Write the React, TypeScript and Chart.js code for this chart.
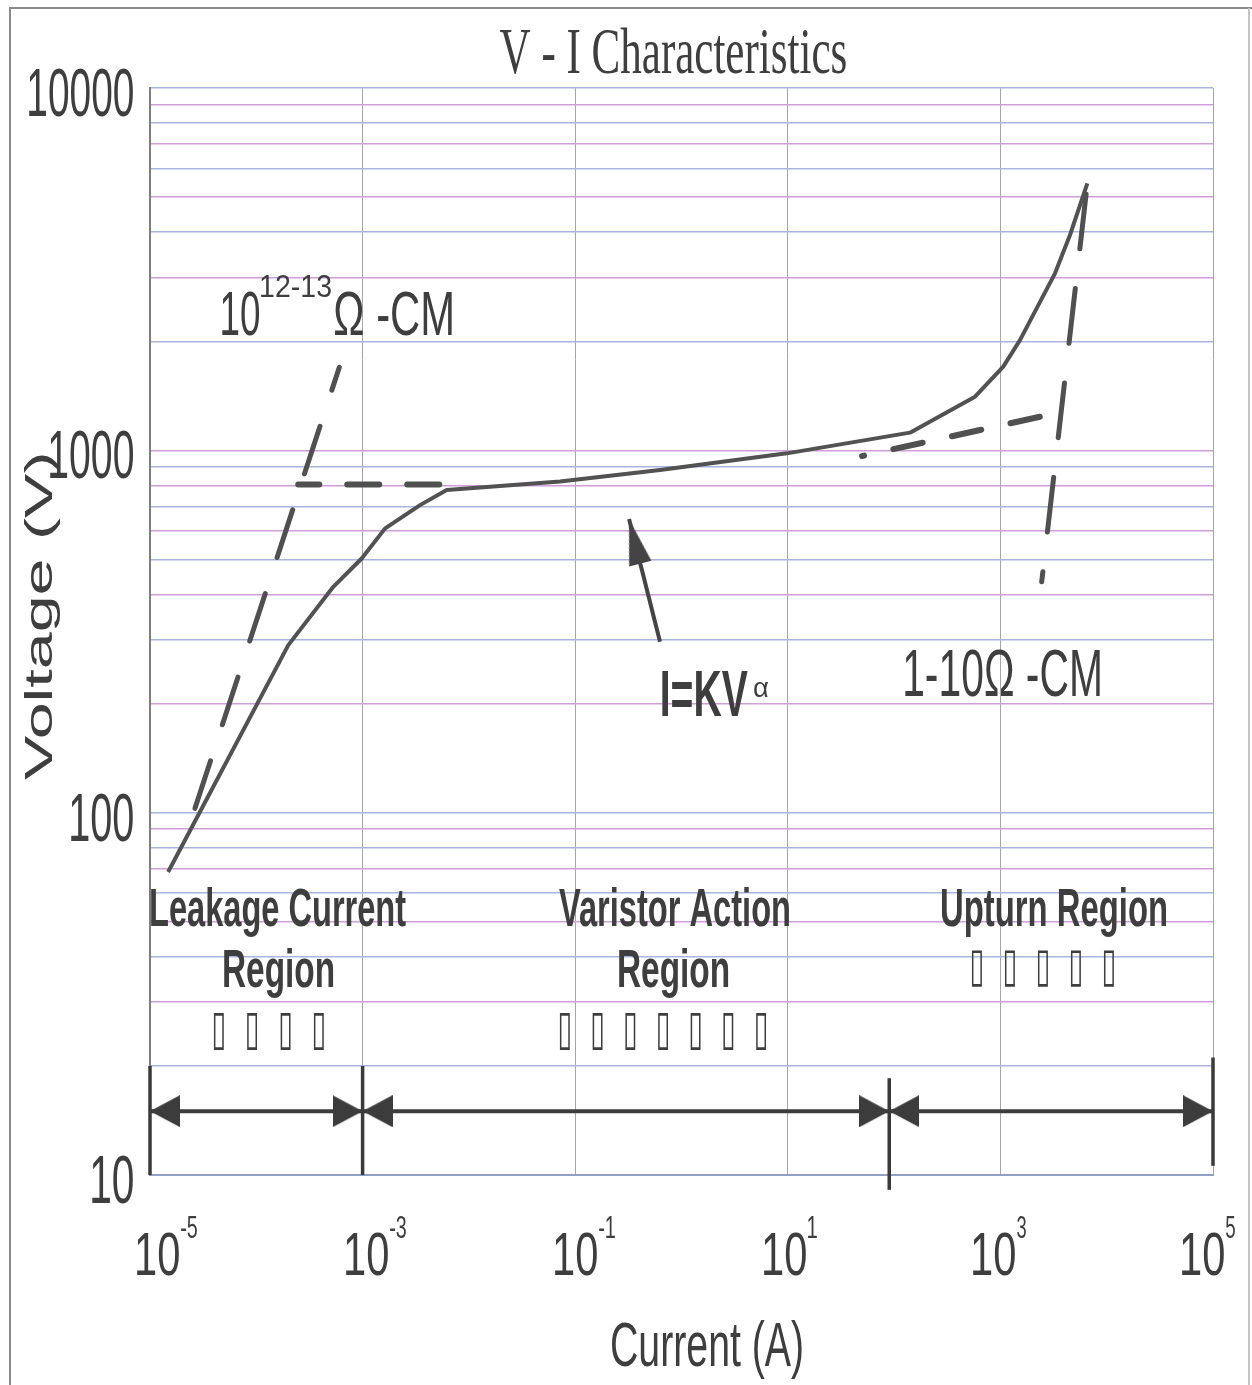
import React, { useEffect, useRef } from 'react';
import { Chart, registerables } from 'chart.js';

Chart.register(...registerables);

// ---------- data ----------
const curveCurrent = [1.48e-5, 2.0e-4, 5.3e-4, 9.8e-4, 1.63e-3, 3.47e-3, 6.18e-3, 0.072, 0.628, 9.8, 141, 577, 1064, 1528, 3264, 4516, 6575];
const curveVoltage = [68.6, 290, 420, 503, 609, 706, 777, 820, 883, 981, 1119, 1406, 1702, 2015, 3080, 3929, 5457];

const leakDashCurrent = [2.65e-5, 6.04e-4];
const leakDashVoltage = [102.8, 1695];
const flatDashCurrent = [2.48e-4, 6.18e-3];
const flatDashVoltage = [805, 805];
const upDashCurrent = [50, 3059];
const upDashVoltage = [964, 1259];
const steepDashCurrent = [2447, 6575];
const steepDashVoltage = [434, 5457];

const pointerCurrent = [0.628, 0.321];
const pointerVoltage = [296.5, 646];

const regionBounds = [1e-5, 1e-3, 90, 1e5];
const regionArrowVoltage = 15;
const markerCurrent = [1e-5, 1e-3, 90, 1e5];
const markerTop = [20, 20, 18.5, 21.1];
const markerBottom = [10, 10, 9.1, 10.6];

const xTickValues = [1e-5, 1e-3, 1e-1, 1e1, 1e3, 1e5];
const xTickBase = '10';
const xTickExponents = ['-5', '-3', '-1', '1', '3', '5'];
const yTickValues = [10, 100, 1000, 10000];
const yTickLabels = ['10', '100', '1000', '10000'];
const yGridValues = [
  10, 20, 30, 40, 50, 60, 70, 80, 90,
  100, 200, 300, 400, 500, 600, 700, 800, 900,
  1000, 2000, 3000, 4000, 5000, 6000, 7000, 8000, 9000,
  10000,
];

const titleText = 'V - I Characteristics';
const xAxisTitle = 'Current (A)';
const yAxisTitle = 'Voltage (V)';
const leakResBase = '10';
const leakResExp = '12-13';
const leakResUnit = 'Ω -CM';
const upturnRes = '1-10Ω -CM';
const lawBase = 'I=KV';
const lawExp = 'α';
const regionTitles = ['Leakage Current', 'Varistor Action', 'Upturn Region'];
const regionSecond = ['Region', 'Region'];
const boxGlyph = '▯';
const boxCounts = [4, 7, 5];

// ---------- styles ----------
const INK = '#4b4b4b';
const TEXT = '#3e3e3e';
const SANS = "'Liberation Sans', Arial, sans-serif";
const SERIF = "'Liberation Serif', 'Times New Roman', serif";
const BOXFONT = "'DejaVu Sans', sans-serif";

type Font = { family: string; weight?: string };

function fitText(ctx: CanvasRenderingContext2D, text: string, x0: number, x1: number, top: number, base: number, font: Font, ref = 'H') {
  ctx.save();
  ctx.font = `${font.weight || 'normal'} 100px ${font.family}`;
  ctx.textAlign = 'left';
  ctx.textBaseline = 'alphabetic';
  const r = ctx.measureText(ref);
  const m = ctx.measureText(text);
  const capH = r.actualBoundingBoxAscent;
  const inkL = m.actualBoundingBoxLeft;
  const inkW = m.actualBoundingBoxLeft + m.actualBoundingBoxRight;
  ctx.translate(x0, base);
  ctx.scale((x1 - x0) / inkW, (base - top) / capH);
  ctx.fillText(text, inkL, 0);
  ctx.restore();
}

function fitInk(ctx: CanvasRenderingContext2D, text: string, x0: number, y0: number, x1: number, y1: number, font: Font) {
  ctx.save();
  ctx.font = `${font.weight || 'normal'} 100px ${font.family}`;
  ctx.textAlign = 'left';
  ctx.textBaseline = 'alphabetic';
  const m = ctx.measureText(text);
  const w = m.actualBoundingBoxLeft + m.actualBoundingBoxRight;
  const h = m.actualBoundingBoxAscent + m.actualBoundingBoxDescent;
  ctx.translate(x0, y0);
  ctx.scale((x1 - x0) / w, (y1 - y0) / h);
  ctx.fillText(text, m.actualBoundingBoxLeft, m.actualBoundingBoxAscent);
  ctx.restore();
}

function makeArrowHead(len: number, wid: number, color: string) {
  const c = document.createElement('canvas');
  c.width = len * 2;
  c.height = wid;
  const g = c.getContext('2d')!;
  g.fillStyle = color;
  g.beginPath();
  g.moveTo(0, 0);
  g.lineTo(len, wid / 2);
  g.lineTo(0, wid);
  g.closePath();
  g.fill();
  return c;
}

const pts = (xs: number[], ys: number[]) => xs.map((x, i) => ({ x, y: ys[i] }));

function lineDs(label: string, xs: number[], ys: number[], extra: any = {}) {
  return {
    label,
    data: pts(xs, ys),
    showLine: true,
    borderColor: INK,
    backgroundColor: INK,
    pointRadius: 0,
    borderWidth: 4,
    tension: 0,
    borderJoinStyle: 'round',
    ...extra,
  };
}

const annotatePlugin = {
  id: 'annotate',
  beforeDraw(chart: any) {
    const ctx = chart.ctx;
    ctx.save();
    ctx.fillStyle = '#ffffff';
    ctx.fillRect(0, 0, chart.width, chart.height);
    ctx.restore();
  },
  afterDraw(chart: any) {
    const ctx: CanvasRenderingContext2D = chart.ctx;
    const xs = chart.scales.x;
    const ys = chart.scales.y;
    const area = chart.chartArea;
    ctx.save();

    // page frame
    ctx.strokeStyle = '#8c8c8c';
    ctx.lineWidth = 2;
    ctx.beginPath();
    ctx.moveTo(10, 1385);
    ctx.lineTo(10, 8);
    ctx.lineTo(1252, 8);
    ctx.stroke();
    ctx.strokeStyle = '#c4c4c4';
    ctx.beginPath();
    ctx.moveTo(1249, 8);
    ctx.lineTo(1249, 1385);
    ctx.stroke();

    ctx.fillStyle = TEXT;
    const sans: Font = { family: SANS };
    const bold: Font = { family: SANS, weight: 'bold' };

    // title
    fitText(ctx, titleText, 500, 846, 30, 73, { family: SERIF }, 'V');

    // y tick labels
    yTickValues.forEach((v, i) => {
      const py = ys.getPixelForValue(v);
      const lab = yTickLabels[i];
      const right = area.left - 17;
      const w = 21 * lab.length - 1;
      fitText(ctx, lab, right - w, right, py - 19, py + 28, sans);
    });

    // x tick labels (labels sit a little left of their ticks, more so to the right)
    xTickValues.forEach((v, i) => {
      const px = xs.getPixelForValue(v);
      const top = area.bottom + 58;
      const left = px - 13 - 0.017 * (px - area.left);
      fitText(ctx, xTickBase, left, left + 42, top, top + 42, sans);
      const e = xTickExponents[i];
      const ew = e.length > 1 ? 16 : 9;
      fitText(ctx, e, left + 44, left + 44 + ew, top - 17, top + 5, sans);
    });

    // axis titles
    fitText(ctx, xAxisTitle, 612, 802, 1323, 1366, sans);
    ctx.save();
    ctx.translate(52, 780);
    ctx.rotate(-Math.PI / 2);
    fitText(ctx, yAxisTitle, 0, 325, -27, 0, sans);
    ctx.restore();

    // resistivity labels
    fitText(ctx, leakResBase, 222, 259, 292, 335, sans);
    fitText(ctx, leakResExp, 261, 331, 276, 297, sans);
    fitText(ctx, leakResUnit, 335, 452, 292, 335, sans);
    fitText(ctx, upturnRes, 905, 1100, 650, 696, sans);

    // power law label
    fitText(ctx, lawBase, 662, 748, 670, 716, bold);
    fitText(ctx, lawExp, 754, 768, 682, 697, sans, 'α');

    // region labels
    fitText(ctx, regionTitles[0], 151, 406, 888, 926, bold);
    fitText(ctx, regionSecond[0], 224, 333, 950, 987, bold);
    fitText(ctx, regionTitles[1], 559, 789, 888, 926, bold);
    fitText(ctx, regionSecond[1], 619, 728, 950, 987, bold);
    fitText(ctx, regionTitles[2], 942, 1166, 888, 926, bold);

    // placeholder glyph boxes
    const groups = [
      { left: 214, pitch: 33.3, top: 1012, bottom: 1050 },
      { left: 560, pitch: 32.7, top: 1012, bottom: 1050 },
      { left: 972, pitch: 33, top: 950, bottom: 987 },
    ];
    groups.forEach((g, gi) => {
      for (let k = 0; k < boxCounts[gi]; k++) {
        const x0 = g.left + k * g.pitch;
        fitInk(ctx, boxGlyph, x0, g.top, x0 + 10, g.bottom, { family: BOXFONT });
      }
    });

    ctx.restore();
  },
};

export default function App() {
  const ref = useRef<HTMLCanvasElement | null>(null);

  useEffect(() => {
    if (!ref.current) return;
    const regionHead = makeArrowHead(30, 32, '#3c3c3c');
    const pointerHead = makeArrowHead(46, 23, '#444444');

    const datasets: any[] = [
      lineDs('V-I curve', curveCurrent, curveVoltage, { borderColor: '#525252', borderWidth: 4 }),
      lineDs('Leakage asymptote', leakDashCurrent, leakDashVoltage, {
        borderWidth: 5, borderDash: [50, 38], borderCapStyle: 'round', borderColor: '#505050',
      }),
      lineDs('Breakdown level', flatDashCurrent, flatDashVoltage, {
        borderWidth: 6, borderDash: [32, 28], borderDashOffset: 11, borderCapStyle: 'round', borderColor: '#505050',
      }),
      lineDs('Upturn extension', upDashCurrent, upDashVoltage, {
        borderWidth: 6, borderDash: [30, 30], borderDashOffset: 28, borderCapStyle: 'round', borderColor: '#505050',
      }),
      lineDs('Upturn asymptote', steepDashCurrent, steepDashVoltage, {
        borderWidth: 5, borderDash: [55, 40], borderDashOffset: 45, borderCapStyle: 'round', borderColor: '#505050',
      }),
      lineDs('Pointer', pointerCurrent, pointerVoltage, {
        borderWidth: 4, borderColor: '#444444', borderCapStyle: 'butt',
        pointRadius: [0, 1], pointBorderWidth: 0, pointStyle: pointerHead,
        pointRotation: (c: any) => {
          const sx = c.chart.scales.x;
          const sy = c.chart.scales.y;
          const dx = sx.getPixelForValue(pointerCurrent[1]) - sx.getPixelForValue(pointerCurrent[0]);
          const dy = sy.getPixelForValue(pointerVoltage[1]) - sy.getPixelForValue(pointerVoltage[0]);
          return (Math.atan2(dy, dx) * 180) / Math.PI;
        },
      }),
    ];

    for (let i = 0; i < regionBounds.length - 1; i++) {
      datasets.push(
        lineDs(`Region span ${i + 1}`, [regionBounds[i], regionBounds[i + 1]], [regionArrowVoltage, regionArrowVoltage], {
          borderWidth: 4, borderColor: '#3c3c3c', borderCapStyle: 'butt',
          pointRadius: 1, pointBorderWidth: 0, pointStyle: regionHead, pointRotation: [180, 0], clip: false,
        })
      );
    }
    markerCurrent.forEach((x, i) => {
      datasets.push(
        lineDs(`Boundary ${i + 1}`, [x, x], [markerBottom[i], markerTop[i]], {
          borderWidth: 3.5, borderColor: '#3a3a3a', borderCapStyle: 'butt', clip: false,
        })
      );
    });

    const chart = new Chart(ref.current, {
      type: 'scatter',
      data: { datasets },
      options: {
        responsive: false,
        animation: false,
        events: [],
        layout: { padding: { left: 150, top: 88, right: 39, bottom: 210 } },
        plugins: {
          legend: { display: false },
          tooltip: { enabled: false },
          title: { display: false },
        },
        scales: {
          x: {
            type: 'logarithmic',
            min: 1e-5,
            max: 1e5,
            afterBuildTicks: (s: any) => {
              s.ticks = xTickValues.map((v) => ({ value: v }));
            },
            ticks: { display: false },
            grid: { color: '#a6a6a6', lineWidth: 1, drawTicks: false },
            border: { display: true, color: '#8fa0c4', width: 2 },
          },
          y: {
            type: 'logarithmic',
            min: 10,
            max: 10000,
            afterBuildTicks: (s: any) => {
              s.ticks = yGridValues.map((v) => ({ value: v }));
            },
            ticks: { display: false },
            grid: {
              color: (c: any) => (c.index % 2 === 0 ? '#d09ed9' : '#aab4de'),
              lineWidth: 1.5,
              drawTicks: false,
            },
            border: { display: true, color: '#7e7e7e', width: 2 },
          },
        },
      } as any,
      plugins: [annotatePlugin],
    });
    return () => chart.destroy();
  }, []);

  return (
    <div style={{ position: 'absolute', left: 0, top: 0, width: 1252, height: 1385, background: '#fff' }}>
      <canvas ref={ref} width={1252} height={1385} style={{ display: 'block', width: 1252, height: 1385 }} />
    </div>
  );
}
